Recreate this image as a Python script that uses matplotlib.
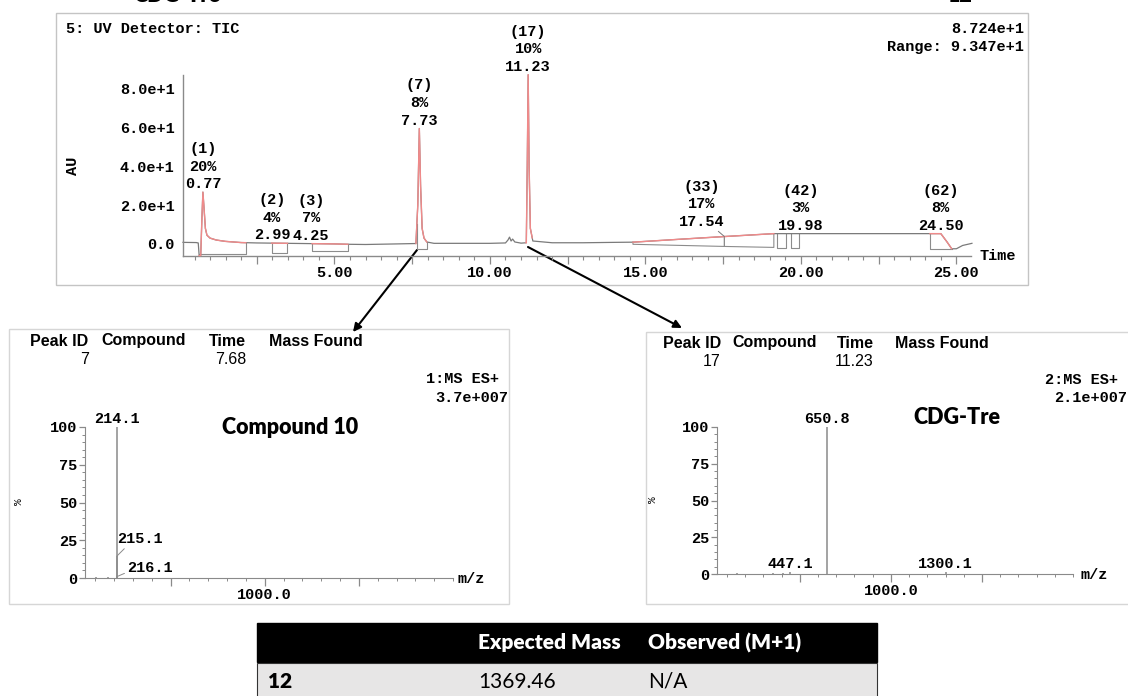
import numpy as np
import matplotlib
matplotlib.use("Agg")
import matplotlib.pyplot as plt
from matplotlib.patches import Rectangle
from matplotlib.ticker import MultipleLocator, FixedLocator, FuncFormatter

# ---------------- data ----------------
# UV detector TIC trace (time in min, AU)
tic_time = [0.13, 0.55, 0.62, 0.65, 0.70, 0.74, 0.77, 0.80, 0.85, 0.90,
            1.00, 1.20, 1.50, 2.00, 2.50, 3.00, 3.50, 4.00, 4.50, 5.00,
            5.50, 6.00, 7.00, 7.62, 7.68, 7.73, 7.77, 7.82, 7.88, 7.97,
            8.20, 9.00, 10.00, 10.50, 10.58, 10.63, 10.68, 10.73, 10.80, 11.00,
            11.17, 11.20, 11.23, 11.26, 11.30, 11.38, 12.00, 13.00, 14.00, 14.60,
            16.00, 17.54, 19.13, 20.00, 22.00, 24.30, 24.50, 24.70, 24.85, 25.00,
            25.20, 25.50]
tic_au = [0.8, 0.7, 0.5, -6.0, -6.0, 14.0, 26.7, 20.0, 8.0, 4.5,
          3.0, 2.0, 1.3, 0.7, 0.5, 0.4, 0.3, 0.2, 0.1, 0.0,
          -0.2, -0.3, 0.0, 0.2, 20.0, 59.5, 30.0, 8.0, 3.0, 1.0,
          0.3, 0.3, 0.3, 0.5, 2.0, 3.5, 1.5, 2.5, 1.0, 0.4,
          0.6, 40.0, 87.24, 40.0, 8.0, 1.5, 0.6, 0.6, 0.8, 0.9,
          2.3, 3.8, 5.3, 5.3, 5.3, 5.3, 5.3, 1.0, -2.5, -2.5,
          -0.8, 0.3]

# integrated peaks
peak_ids = [1, 2, 3, 7, 17, 33, 42, 62]
peak_pct = [20, 4, 7, 8, 10, 17, 3, 8]
peak_rt = [0.77, 2.99, 4.25, 7.73, 11.23, 17.54, 19.98, 24.50]

# integration windows (highlighted) and baseline boxes (t0, t1, low0, low1)
red_windows = [(0.65, 2.15), (2.98, 3.49), (4.28, 5.43), (7.62, 7.97),
               (11.16, 11.36), (14.60, 19.13), (24.15, 24.85)]
integration_boxes = [(0.66, 2.15, -5.3, -5.3), (2.98, 3.49, -4.6, -4.6),
                     (4.28, 5.43, -3.7, -3.7), (7.65, 7.97, -2.4, -2.4),
                     (14.60, 17.54, -0.2, -1.3), (17.54, 19.13, -1.3, -1.8),
                     (19.23, 19.51, -2.2, -2.2), (19.67, 19.93, -2.2, -2.2),
                     (24.15, 24.85, -2.7, -2.7)]

tic_yticks = [0, 20, 40, 60, 80]
tic_yticklabels = ["0.0", "2.0e+1", "4.0e+1", "6.0e+1", "8.0e+1"]
tic_title = "5: UV Detector: TIC"
tic_max_text = "8.724e+1"
tic_range_text = "Range: 9.347e+1"

# mass spectra
ms1_mz = [105.0, 165.0, 214.1, 215.1, 216.1]
ms1_int = [0.8, 0.8, 100.0, 14.6, 1.0]
ms1_labelled = [214.1, 215.1, 216.1]
ms1_header = ["Peak ID", "Compound", "Time", "Mass Found"]
ms1_values = ["7", "", "7.68", ""]
ms1_scan = ["1:MS ES+", "3.7e+007"]
ms1_name = "Compound 10"

ms2_mz = [154.0, 350.0, 405.0, 447.1, 650.8, 1300.1]
ms2_int = [0.6, 0.8, 1.0, 1.5, 100.0, 1.5]
ms2_labelled = [447.1, 650.8, 1300.1]
ms2_header = ["Peak ID", "Compound", "Time", "Mass Found"]
ms2_values = ["17", "", "11.23", ""]
ms2_scan = ["2:MS ES+", "2.1e+007"]
ms2_name = "CDG-Tre"

ms_yticks = [0, 25, 50, 75, 100]

# table
table_header = ["", "Expected Mass", "Observed (M+1)"]
table_row = ["12", "1369.46", "N/A"]

# ---------------- styling ----------------
W, H, DPI = 1128, 696, 100
MONO = "Liberation Mono"
ARIAL = "Liberation Sans"
CAL = "Lato"
GREY = "#8a8a8a"
TRACE = "#7a7a7a"
RED = "#f08a8a"
PT = 72.0 / DPI  # points per pixel

plt.rcParams["font.family"] = [MONO, "DejaVu Sans"]
plt.rcParams["font.weight"] = "bold"
plt.rcParams["font.size"] = 11

fig = plt.figure(figsize=(W / DPI, H / DPI), dpi=DPI)
fig.patch.set_facecolor("white")


def rect(l, t, r, b):
    return [l / W, 1 - b / H, (r - l) / W, (b - t) / H]


# overlay in pixel coordinates for frames, arrows, free text, table
ov = fig.add_axes([0, 0, 1, 1], zorder=0)
ov.set_xlim(0, W)
ov.set_ylim(H, 0)
ov.axis("off")

# frames
ov.add_patch(Rectangle((56, 13), 1028 - 56, 285 - 13, fill=False, ec="#c4c4c4", lw=1.0))
ov.add_patch(Rectangle((9, 329), 509 - 9, 604 - 329, fill=False, ec="#d6d6d6", lw=1.0))
ov.add_patch(Rectangle((646, 332), 1140 - 646, 604 - 332, fill=False, ec="#d6d6d6", lw=1.0))

# titles cut off at the very top edge (as in the source figure)
ov.text(133, 2.5, ms2_name, family=CAL, weight="heavy", fontsize=15.5, va="baseline", ha="left")
ov.text(948, 2.5, table_row[0], family=CAL, weight="heavy", fontsize=15.5, va="baseline", ha="left")

# ---------------- chromatogram ----------------
ax = fig.add_axes(rect(183, 74.7, 971, 256), zorder=2)
ax.patch.set_alpha(0)
t = np.array(tic_time)
y = np.array(tic_au)
ax.plot(t, y, color=TRACE, lw=0.9, zorder=2, clip_on=False)
for t0, t1 in red_windows:
    xs = np.concatenate([[t0], t[(t > t0) & (t < t1)], [t1]])
    ax.plot(xs, np.interp(xs, t, y), color=RED, lw=1.0, zorder=3, clip_on=False)
for t0, t1, lo0, lo1 in integration_boxes:
    ax.plot([t0, t0, t1, t1], [np.interp(t0, t, y), lo0, lo1, np.interp(t1, t, y)],
            color="#8c8c8c", lw=0.8, zorder=1)

ax.set_xlim(0.13, 25.47)
ax.set_ylim(-6.23, 87.24)
for s in ["top", "right"]:
    ax.spines[s].set_visible(False)
for s in ["left", "bottom"]:
    ax.spines[s].set_color(GREY)
    ax.spines[s].set_linewidth(1.0)
ax.xaxis.set_major_locator(MultipleLocator(2.5))
ax.xaxis.set_minor_locator(MultipleLocator(0.5))
ax.xaxis.set_major_formatter(FuncFormatter(lambda v, p: f"{v:.2f}" if abs(v / 5 - round(v / 5)) < 1e-6 else ""))
ax.tick_params(axis="x", which="major", direction="out", length=6, width=0.9, color=GREY, pad=1.5, labelsize=11)
ax.tick_params(axis="x", which="minor", direction="out", length=3, width=0.8, color=GREY)
ax.yaxis.set_major_locator(FixedLocator(tic_yticks))
ax.set_yticklabels(tic_yticklabels)
ax.tick_params(axis="y", which="major", length=0, pad=6, labelsize=11)

label_offsets_px = {33: (-23, 8)}
for pid, pct, rt in zip(peak_ids, peak_pct, peak_rt):
    dx, dy = label_offsets_px.get(pid, (0, 1))
    txt = f"({pid})\n{pct}%\n{rt:.2f}"
    kw = {}
    if pid in label_offsets_px:
        kw["arrowprops"] = dict(arrowstyle="-", color="#777777", lw=0.7,
                                shrinkA=0, shrinkB=0, relpos=(0.8, 0))
    ax.annotate(txt, xy=(rt, np.interp(rt, t, y)), xytext=(dx * PT, dy * PT),
                textcoords="offset points", ha="center", va="bottom",
                multialignment="center", linespacing=1.32, fontsize=11, zorder=5, **kw)

ov.text(66, 29, tic_title, ha="left", va="center", fontsize=11)
ov.text(1024, 29, tic_max_text, ha="right", va="center", fontsize=11)
ov.text(1024, 47, tic_range_text, ha="right", va="center", fontsize=11)
ov.text(73, 166, "AU", ha="center", va="center", rotation=90, fontsize=11)
ov.text(979, 256, "Time", ha="left", va="center", fontsize=11)


# ---------------- mass spectra ----------------
def ms_panel(box, mz, inten, labelled, special):
    a = fig.add_axes(rect(*box), zorder=2)
    a.patch.set_alpha(0)
    a.vlines(mz, 0, inten, color="#8a8a8a", lw=1.1, clip_on=False)
    a.set_xlim(45, 2000)
    a.set_ylim(0, 100)
    for s in ["top", "right"]:
        a.spines[s].set_visible(False)
    for s in ["left", "bottom"]:
        a.spines[s].set_color(GREY)
    a.xaxis.set_major_locator(FixedLocator([500, 1000, 1500]))
    a.xaxis.set_minor_locator(MultipleLocator(100))
    a.xaxis.set_major_formatter(FuncFormatter(lambda v, p: "1000.0" if v == 1000 else ""))
    a.yaxis.set_major_locator(FixedLocator(ms_yticks))
    a.yaxis.set_minor_locator(MultipleLocator(5))
    a.tick_params(axis="x", which="major", direction="out", length=6, width=0.9, color=GREY, pad=1.5, labelsize=11)
    a.tick_params(axis="x", which="minor", direction="out", length=2.2, width=0.7, color=GREY)
    a.tick_params(axis="y", which="major", direction="out", length=4.5, width=0.9, color=GREY, pad=1, labelsize=11)
    a.tick_params(axis="y", which="minor", direction="out", length=2.2, width=0.7, color=GREY)
    for m in labelled:
        v = inten[mz.index(m)]
        if m in special:
            dx, dy, rel = special[m]
            a.annotate(f"{m:.1f}", xy=(m, v), xytext=(dx * PT, dy * PT), textcoords="offset points",
                       ha="left", va="baseline", fontsize=11,
                       arrowprops=dict(arrowstyle="-", color="#8a8a8a", lw=0.7,
                                       shrinkA=0, shrinkB=0, relpos=rel))
        else:
            a.annotate(f"{m:.1f}", xy=(m, v), xytext=(0, 4 * PT), textcoords="offset points",
                       ha="center", va="baseline", fontsize=11)
    return a


ms_panel((85, 427, 453, 578), ms1_mz, ms1_int, ms1_labelled,
         {215.1: (0, 13, (0.22, 0.0)), 216.1: (10, 4.5, (0.0, 0.2))})
ms_panel((717, 427, 1073, 574), ms2_mz, ms2_int, ms2_labelled, {})

# MS panel text
hdr_x1 = [30, 101, 209, 269]
for x, s in zip(hdr_x1, ms1_header):
    ov.text(x, 341, s, family=ARIAL, weight="bold", fontsize=11.5, ha="left", va="center")
ov.text(89, 359, ms1_values[0], family=ARIAL, weight="normal", fontsize=11.5, ha="right", va="center")
ov.text(246, 359, ms1_values[2], family=ARIAL, weight="normal", fontsize=11.5, ha="right", va="center")
ov.text(499, 379, ms1_scan[0], ha="right", va="center", fontsize=11)
ov.text(508, 398, ms1_scan[1], ha="right", va="center", fontsize=11)
ov.text(290, 428, ms1_name, family=CAL, weight="heavy", fontsize=15.5, ha="center", va="center")
ov.text(19, 502, "%", rotation=90, ha="center", va="center", fontsize=8, weight="normal")
ov.text(458, 579, "m/z", ha="left", va="center", fontsize=11)

hdr_x2 = [663, 732, 837, 895]
for x, s in zip(hdr_x2, ms2_header):
    ov.text(x, 343, s, family=ARIAL, weight="bold", fontsize=11.5, ha="left", va="center")
ov.text(720, 361, ms2_values[0], family=ARIAL, weight="normal", fontsize=11.5, ha="right", va="center")
ov.text(873, 361, ms2_values[2], family=ARIAL, weight="normal", fontsize=11.5, ha="right", va="center")
ov.text(1118, 380, ms2_scan[0], ha="right", va="center", fontsize=11)
ov.text(1127, 398, ms2_scan[1], ha="right", va="center", fontsize=11)
ov.text(957, 417, ms2_name, family=CAL, weight="heavy", fontsize=15.5, ha="center", va="center")
ov.text(653, 500, "%", rotation=90, ha="center", va="center", fontsize=8, weight="normal")
ov.text(1081, 575, "m/z", ha="left", va="center", fontsize=11)

# arrows from chromatogram peaks to spectra
for (x0, y0), (x1, y1) in [((417, 250), (353, 332)), ((528, 247), (682, 328))]:
    ov.annotate("", xy=(x1, y1), xytext=(x0, y0),
                arrowprops=dict(arrowstyle="-|>", color="black", lw=1.5,
                                mutation_scale=12, shrinkA=0, shrinkB=0))

# ---------------- table ----------------
ov.add_patch(Rectangle((257, 623), 877 - 257, 39, fc="black", ec="black", lw=1))
ov.add_patch(Rectangle((257, 663), 877 - 257, 40, fc="#e7e6e6", ec="#333333", lw=0.8))
col_x = [268, 478, 648]
for x, s in zip(col_x, table_header):
    ov.text(x, 643, s, family=CAL, weight="heavy", color="white", fontsize=15, ha="left", va="center")
for i, (x, s) in enumerate(zip(col_x, table_row)):
    ov.text(x, 682, s, family=CAL, weight="heavy" if i == 0 else "normal", color="black",
            fontsize=15, ha="left", va="center")

fig.savefig("out.png", dpi=DPI)
